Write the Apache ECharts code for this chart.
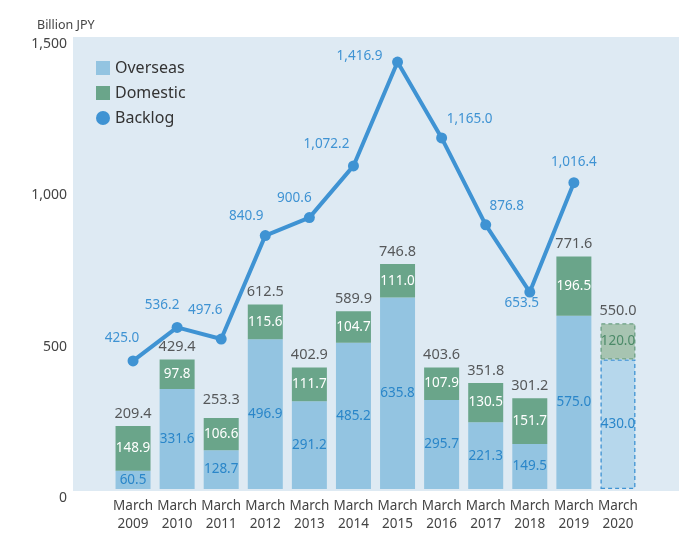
<!DOCTYPE html>
<html>
<head>
<meta charset="utf-8">
<script src="https://cdn.jsdelivr.net/npm/echarts@6/dist/echarts.min.js"></script>
<style>
  html, body { margin: 0; padding: 0; background: #fff; }
  #chart { width: 700px; height: 533px; }
</style>
</head>
<body>
<div id="chart"></div>
<script>
// data
const years = ['2009', '2010', '2011', '2012', '2013', '2014', '2015', '2016', '2017', '2018', '2019', '2020'];
const overseas = [60.5, 331.6, 128.7, 496.9, 291.2, 485.2, 635.8, 295.7, 221.3, 149.5, 575.0, 430.0];
const domestic = [148.9, 97.8, 106.6, 115.6, 111.7, 104.7, 111.0, 107.9, 130.5, 151.7, 196.5, 120.0];
const totals = [209.4, 429.4, 253.3, 612.5, 402.9, 589.9, 746.8, 403.6, 351.8, 301.2, 771.6, 550.0];
const backlog = [425.0, 536.2, 497.6, 840.9, 900.6, 1072.2, 1416.9, 1165.0, 876.8, 653.5, 1016.4, null];

// label nudges for the backlog points (relative to 'top')
const backlogLabelOffset = [
    [-11, -5], [-15, -5], [-16, -11], [-19, -2], [-15, -2], [-27, -4],
    [-38, 12], [28, -1], [21, -1], [-8, 29], [0, -3], [0, 0]
];

const FONT = '"Noto Sans", sans-serif';
const fmt = v => Number(v).toLocaleString('en-US', { minimumFractionDigits: 1, maximumFractionDigits: 1 });

const chart = echarts.init(document.getElementById('chart'), null, { renderer: 'canvas' });

// last year is a forecast: lighter fill with dashed outline
const overseasData = overseas.map((v, i) => i === years.length - 1 ? {
    value: v,
    itemStyle: { color: '#b6d7ec', borderColor: '#3f93d3', borderWidth: 1.3, borderType: [4, 3] }
} : v);
const domesticData = domestic.map((v, i) => i === years.length - 1 ? {
    value: v,
    itemStyle: { color: '#a7c4b1', borderColor: '#6a9f82', borderWidth: 1.3, borderType: [4, 3] },
    label: { color: '#4b8a68' }
} : v);
const backlogData = backlog.map((v, i) => ({
    value: v,
    label: { offset: backlogLabelOffset[i] }
}));

const option = {
    textStyle: { fontFamily: FONT },
    title: {
        text: 'Billion JPY',
        left: 32, top: 14,
        textStyle: { fontFamily: FONT, fontSize: 12.5, fontWeight: 'normal', color: '#444' }
    },
    legend: {
        orient: 'vertical',
        left: 91, top: 55,
        itemWidth: 14, itemHeight: 14,
        itemGap: 9,
        textStyle: { fontFamily: FONT, fontSize: 16, color: '#333' },
        data: [
            { name: 'Overseas', icon: 'rect' },
            { name: 'Domestic', icon: 'rect' },
            { name: 'Backlog', icon: 'circle' }
        ]
    },
    grid: [
        // background panel + y labels
        { left: 73, right: 21, top: 37, bottom: 42, show: true, backgroundColor: '#deeaf3', borderWidth: 0 },
        // data area
        { left: 111, right: 60, top: 37, bottom: 42 }
    ],
    xAxis: [
        { gridIndex: 0, type: 'category', data: years, show: false },
        {
            gridIndex: 1, type: 'category', data: years,
            axisLine: { show: false }, axisTick: { show: false },
            axisLabel: {
                interval: 0, margin: 8, fontSize: 13.5, lineHeight: 18, color: '#444', fontFamily: FONT,
                formatter: y => 'March\n' + y
            }
        }
    ],
    yAxis: [
        {
            gridIndex: 0, type: 'value', min: 0, max: 1500, interval: 500,
            axisLine: { show: false }, axisTick: { show: false }, splitLine: { show: false },
            axisLabel: {
                margin: 6, fontSize: 14, color: '#444', fontFamily: FONT, verticalAlign: 'top',
                formatter: v => v.toLocaleString('en-US')
            }
        },
        { gridIndex: 1, type: 'value', min: 0, max: 1500, interval: 500, show: false }
    ],
    series: [
        {
            name: 'Overseas', type: 'bar', stack: 'total', xAxisIndex: 1, yAxisIndex: 1,
            barWidth: 35, data: overseasData,
            itemStyle: { color: '#93c4e1' },
            label: { show: true, position: 'inside', fontSize: 13.5, color: '#2a86c9', formatter: p => fmt(p.value) }
        },
        {
            name: 'Domestic', type: 'bar', stack: 'total', xAxisIndex: 1, yAxisIndex: 1,
            barWidth: 35, data: domesticData,
            itemStyle: { color: '#6aa58a' },
            label: { show: true, position: 'inside', fontSize: 13.5, color: '#ffffff', formatter: p => fmt(p.value) }
        },
        {
            name: 'Total', type: 'scatter', xAxisIndex: 1, yAxisIndex: 1,
            symbolSize: 0, data: totals, silent: true,
            label: { show: true, position: 'top', distance: 5, fontSize: 14.5, color: '#333', formatter: p => fmt(p.value) }
        },
        {
            name: 'Backlog', type: 'line', xAxisIndex: 1, yAxisIndex: 1,
            data: backlogData,
            symbol: 'circle', symbolSize: 11,
            lineStyle: { color: '#3f93d3', width: 4 },
            itemStyle: { color: '#3f93d3' },
            label: { show: true, position: 'top', distance: 5, fontSize: 13.5, color: '#3f93d3', formatter: p => fmt(p.value) },
            z: 5
        }
    ]
};

chart.setOption(option);
</script>
</body>
</html>
